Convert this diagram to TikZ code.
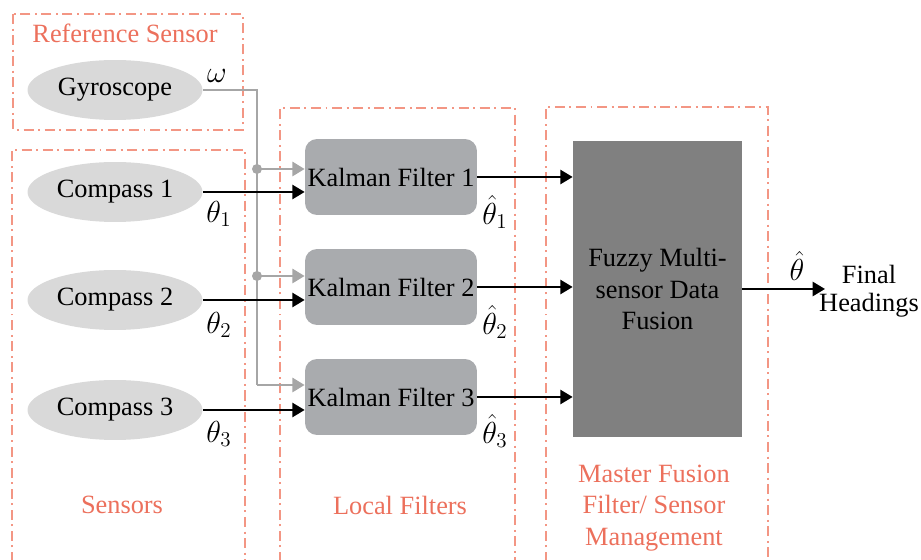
\documentclass[tikz,border=0pt]{standalone}
\usepackage{fontspec}
\setmainfont{Liberation Serif}[Ligatures=TeX]
\usetikzlibrary{shapes.geometric,arrows.meta}

\definecolor{salmon}{RGB}{243,150,132}
\definecolor{salmontext}{RGB}{236,112,92}
\definecolor{sensorgray}{RGB}{217,217,217}
\definecolor{kalmangray}{RGB}{169,171,174}
\definecolor{fusiongray}{RGB}{128,128,128}
\definecolor{wiregray}{RGB}{166,166,166}

\tikzset{
	frame/.style={draw=salmon, line width=1.3pt, dash pattern=on 5.7pt off 2.6pt on 1.1pt off 2.6pt},
	framelabel/.style={text=salmontext, font=\rmfamily\fontsize{15}{18}\selectfont, align=center},
	sensor/.style={ellipse, fill=sensorgray, minimum width=3.5cm, minimum height=1.2cm, inner sep=0pt, font=\rmfamily\fontsize{15}{18}\selectfont},
	kalman/.style={rectangle, rounded corners=0.24cm, fill=kalmangray, minimum width=3.44cm, minimum height=1.52cm, inner sep=0pt, font=\rmfamily\fontsize{15}{18}\selectfont},
	fusion/.style={rectangle, fill=fusiongray, minimum width=3.38cm, minimum height=5.92cm, inner sep=0pt, align=center, font=\rmfamily\fontsize{15}{18}\selectfont},
	sig/.style={draw=black, line width=1.3pt, -{Triangle[length=7pt,width=8pt]}},
	ref/.style={draw=wiregray, line width=1.6pt},
	refarrow/.style={ref, -{Triangle[length=7pt,width=8pt]}},
	lbl/.style={inner sep=0.5pt, font=\fontsize{18}{20}\selectfont},
}

\begin{document}
\begin{tikzpicture}[x=0.02cm, y=-0.02cm]
			\useasboundingbox (0,0) rectangle (921,560);

			% group frames
			\draw[frame] (13,14) rectangle (243,130);
			\draw[frame] (12,562) |- (245,150) -- (245,562);
			\draw[frame] (280,562) |- (515,108) -- (515,562);
			\draw[frame] (546,562) |- (768,107) -- (768,562);

			\node	(refsensor) at (125,33) [framelabel] {Reference Sensor};
			\node	(sensors) at (122,505) [framelabel] {Sensors};
			\node	(localfilters) at (400,505) [framelabel] {Local Filters};
			\node	(master) at (654,508) [framelabel] {Master Fusion\\Filter/ Sensor\\Management};

			% sensors
			\node	(gyro) at (115,90) [sensor] {Gyroscope};
			\node	(c1) at (115,192) [sensor] {Compass 1};
			\node	(c2) at (115,300) [sensor] {Compass 2};
			\node	(c3) at (115,410) [sensor] {Compass 3};

			% local filters
			\node	(kf1) at (391,177) [kalman] {Kalman Filter 1};
			\node	(kf2) at (391,287) [kalman] {Kalman Filter 2};
			\node	(kf3) at (391,397) [kalman] {Kalman Filter 3};

			% master filter
			\node	(fuzzy) at (657.5,289) [fusion] {Fuzzy Multi-\\sensor Data\\Fusion};
			\node	(final) at (869,291) [font=\rmfamily\fontsize{15}{16}\selectfont, align=center] {Final\\Headings};
			\coordinate	(out) at (825,289);

			% gyroscope reference line
			\coordinate	(j1) at (257,169);
			\coordinate	(j2) at (257,276);
			\coordinate	(bend) at (257,385);
			\draw[ref] (gyro.east) -| (bend);
			\draw 
			(j1) edge[refarrow] (j1 -| kf1.west)
			(j2) edge[refarrow] (j2 -| kf2.west)
			(bend) edge[refarrow] (bend -| kf3.west)
			;
			\fill[wiregray] (j1) circle (5);
			\fill[wiregray] (j2) circle (5);

			% measurements
			\draw 
			(c1.east) edge[sig] (c1.east -| kf1.west)
			(c2.east) edge[sig] (c2.east -| kf2.west)
			(c3.east) edge[sig] (c3.east -| kf3.west)
			(kf1.east) edge[sig] (kf1.east -| fuzzy.west)
			(kf2.east) edge[sig] (kf2.east -| fuzzy.west)
			(kf3.east) edge[sig] (kf3.east -| fuzzy.west)
			(fuzzy.east) edge[sig] (out)
			;

			% signal labels
			\node	(omega) at (217,76) [lbl] {$\omega$};
			\node	(th1) at (219,214) [lbl] {$\theta_1$};
			\node	(th2) at (219,325) [lbl] {$\theta_2$};
			\node	(th3) at (219,434) [lbl] {$\theta_3$};
			\node	(hth1) at (495,212) [lbl] {$\hat{\theta}_1$};
			\node	(hth2) at (495,322) [lbl] {$\hat{\theta}_2$};
			\node	(hth3) at (495,431) [lbl] {$\hat{\theta}_3$};
			\node	(hth) at (797,266) [lbl] {$\hat{\theta}$};
		\end{tikzpicture}
\end{document}
